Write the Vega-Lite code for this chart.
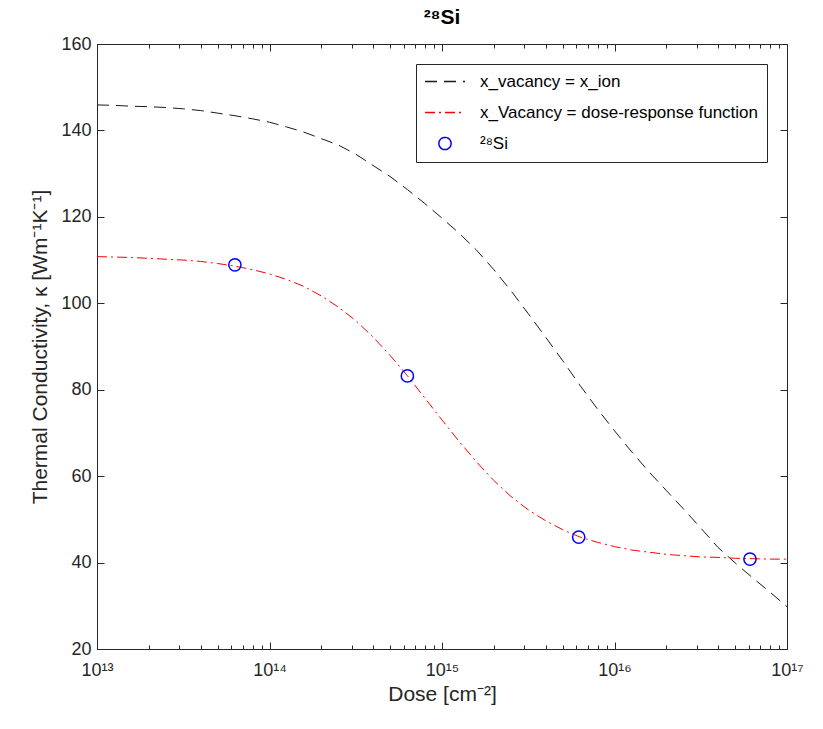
{
  "$schema": "https://vega.github.io/schema/vega-lite/v6.json",
  "width": 690,
  "height": 605,
  "autosize": {"type": "none"},
  "padding": {"left": 97, "top": 44, "right": 36, "bottom": 80},
  "background": "white",
  "title": {"text": "²⁸Si", "fontSize": 21, "fontWeight": "bold", "font": "Liberation Sans", "color": "#000000", "offset": 7},
  "config": {
    "font": "Liberation Sans",
    "view": {"stroke": "#262626", "strokeWidth": 1},
    "axis": {"grid": false, "domainColor": "#262626", "tickColor": "#262626", "labelColor": "#262626", "titleColor": "#262626", "labelFont": "Liberation Sans", "titleFont": "Liberation Sans", "labelFontSize": 18, "titleFontSize": 21, "titleFontWeight": "normal", "labelFlush": false, "labelOverlap": false, "tickWidth": 1},
    "legend": {"labelFont": "Liberation Sans"}
  },
  "datasets": {
    "curves": [
      {"dose": 1e13, "kappa": 145.9, "series": "x_vacancy = x_ion"},
      {"dose": 1.2589e13, "kappa": 145.8, "series": "x_vacancy = x_ion"},
      {"dose": 1.5849e13, "kappa": 145.6, "series": "x_vacancy = x_ion"},
      {"dose": 1.9953e13, "kappa": 145.5, "series": "x_vacancy = x_ion"},
      {"dose": 2.5119e13, "kappa": 145.3, "series": "x_vacancy = x_ion"},
      {"dose": 3.1623e13, "kappa": 145.0, "series": "x_vacancy = x_ion"},
      {"dose": 3.9811e13, "kappa": 144.6, "series": "x_vacancy = x_ion"},
      {"dose": 5.0119e13, "kappa": 144.0, "series": "x_vacancy = x_ion"},
      {"dose": 6.3096e13, "kappa": 143.4, "series": "x_vacancy = x_ion"},
      {"dose": 7.9433e13, "kappa": 142.7, "series": "x_vacancy = x_ion"},
      {"dose": 1e14, "kappa": 141.9, "series": "x_vacancy = x_ion"},
      {"dose": 1.2589e14, "kappa": 140.8, "series": "x_vacancy = x_ion"},
      {"dose": 1.5849e14, "kappa": 139.6, "series": "x_vacancy = x_ion"},
      {"dose": 1.9953e14, "kappa": 138.1, "series": "x_vacancy = x_ion"},
      {"dose": 2.5119e14, "kappa": 136.6, "series": "x_vacancy = x_ion"},
      {"dose": 3.1623e14, "kappa": 134.5, "series": "x_vacancy = x_ion"},
      {"dose": 3.9811e14, "kappa": 131.9, "series": "x_vacancy = x_ion"},
      {"dose": 5.0119e14, "kappa": 129.3, "series": "x_vacancy = x_ion"},
      {"dose": 6.3096e14, "kappa": 126.3, "series": "x_vacancy = x_ion"},
      {"dose": 7.9433e14, "kappa": 123.1, "series": "x_vacancy = x_ion"},
      {"dose": 1e15, "kappa": 119.7, "series": "x_vacancy = x_ion"},
      {"dose": 1.2589e15, "kappa": 116.2, "series": "x_vacancy = x_ion"},
      {"dose": 1.5849e15, "kappa": 112.3, "series": "x_vacancy = x_ion"},
      {"dose": 1.9953e15, "kappa": 107.8, "series": "x_vacancy = x_ion"},
      {"dose": 2.5119e15, "kappa": 102.9, "series": "x_vacancy = x_ion"},
      {"dose": 3.1623e15, "kappa": 97.6, "series": "x_vacancy = x_ion"},
      {"dose": 3.9811e15, "kappa": 92.2, "series": "x_vacancy = x_ion"},
      {"dose": 5.0119e15, "kappa": 86.7, "series": "x_vacancy = x_ion"},
      {"dose": 6.3096e15, "kappa": 81.0, "series": "x_vacancy = x_ion"},
      {"dose": 7.9433e15, "kappa": 75.6, "series": "x_vacancy = x_ion"},
      {"dose": 1e16, "kappa": 70.5, "series": "x_vacancy = x_ion"},
      {"dose": 1.2589e16, "kappa": 65.6, "series": "x_vacancy = x_ion"},
      {"dose": 1.5849e16, "kappa": 61.0, "series": "x_vacancy = x_ion"},
      {"dose": 1.9953e16, "kappa": 56.7, "series": "x_vacancy = x_ion"},
      {"dose": 2.5119e16, "kappa": 52.4, "series": "x_vacancy = x_ion"},
      {"dose": 3.1623e16, "kappa": 48.0, "series": "x_vacancy = x_ion"},
      {"dose": 3.9811e16, "kappa": 43.5, "series": "x_vacancy = x_ion"},
      {"dose": 5.0119e16, "kappa": 39.9, "series": "x_vacancy = x_ion"},
      {"dose": 6.3096e16, "kappa": 36.5, "series": "x_vacancy = x_ion"},
      {"dose": 7.9433e16, "kappa": 33.2, "series": "x_vacancy = x_ion"},
      {"dose": 1e17, "kappa": 29.8, "series": "x_vacancy = x_ion"},
      {"dose": 1e13, "kappa": 110.8, "series": "x_Vacancy = dose-response function"},
      {"dose": 1.2589e13, "kappa": 110.7, "series": "x_Vacancy = dose-response function"},
      {"dose": 1.5849e13, "kappa": 110.6, "series": "x_Vacancy = dose-response function"},
      {"dose": 1.9953e13, "kappa": 110.4, "series": "x_Vacancy = dose-response function"},
      {"dose": 2.5119e13, "kappa": 110.2, "series": "x_Vacancy = dose-response function"},
      {"dose": 3.1623e13, "kappa": 110.0, "series": "x_Vacancy = dose-response function"},
      {"dose": 3.9811e13, "kappa": 109.7, "series": "x_Vacancy = dose-response function"},
      {"dose": 5.0119e13, "kappa": 109.2, "series": "x_Vacancy = dose-response function"},
      {"dose": 6.3096e13, "kappa": 108.6, "series": "x_Vacancy = dose-response function"},
      {"dose": 7.9433e13, "kappa": 107.8, "series": "x_Vacancy = dose-response function"},
      {"dose": 1e14, "kappa": 106.8, "series": "x_Vacancy = dose-response function"},
      {"dose": 1.2589e14, "kappa": 105.5, "series": "x_Vacancy = dose-response function"},
      {"dose": 1.5849e14, "kappa": 103.9, "series": "x_Vacancy = dose-response function"},
      {"dose": 1.9953e14, "kappa": 101.7, "series": "x_Vacancy = dose-response function"},
      {"dose": 2.5119e14, "kappa": 99.1, "series": "x_Vacancy = dose-response function"},
      {"dose": 3.1623e14, "kappa": 96.0, "series": "x_Vacancy = dose-response function"},
      {"dose": 3.9811e14, "kappa": 92.2, "series": "x_Vacancy = dose-response function"},
      {"dose": 5.0119e14, "kappa": 87.9, "series": "x_Vacancy = dose-response function"},
      {"dose": 6.3096e14, "kappa": 83.2, "series": "x_Vacancy = dose-response function"},
      {"dose": 7.9433e14, "kappa": 78.1, "series": "x_Vacancy = dose-response function"},
      {"dose": 1e15, "kappa": 73.0, "series": "x_Vacancy = dose-response function"},
      {"dose": 1.2589e15, "kappa": 68.0, "series": "x_Vacancy = dose-response function"},
      {"dose": 1.5849e15, "kappa": 63.3, "series": "x_Vacancy = dose-response function"},
      {"dose": 1.9953e15, "kappa": 59.0, "series": "x_Vacancy = dose-response function"},
      {"dose": 2.5119e15, "kappa": 55.3, "series": "x_Vacancy = dose-response function"},
      {"dose": 3.1623e15, "kappa": 52.2, "series": "x_Vacancy = dose-response function"},
      {"dose": 3.9811e15, "kappa": 49.7, "series": "x_Vacancy = dose-response function"},
      {"dose": 5.0119e15, "kappa": 47.6, "series": "x_Vacancy = dose-response function"},
      {"dose": 6.3096e15, "kappa": 45.9, "series": "x_Vacancy = dose-response function"},
      {"dose": 7.9433e15, "kappa": 44.7, "series": "x_Vacancy = dose-response function"},
      {"dose": 1e16, "kappa": 43.7, "series": "x_Vacancy = dose-response function"},
      {"dose": 1.2589e16, "kappa": 42.9, "series": "x_Vacancy = dose-response function"},
      {"dose": 1.5849e16, "kappa": 42.4, "series": "x_Vacancy = dose-response function"},
      {"dose": 1.9953e16, "kappa": 41.9, "series": "x_Vacancy = dose-response function"},
      {"dose": 2.5119e16, "kappa": 41.6, "series": "x_Vacancy = dose-response function"},
      {"dose": 3.1623e16, "kappa": 41.3, "series": "x_Vacancy = dose-response function"},
      {"dose": 3.9811e16, "kappa": 41.2, "series": "x_Vacancy = dose-response function"},
      {"dose": 5.0119e16, "kappa": 41.0, "series": "x_Vacancy = dose-response function"},
      {"dose": 6.3096e16, "kappa": 40.9, "series": "x_Vacancy = dose-response function"},
      {"dose": 7.9433e16, "kappa": 40.8, "series": "x_Vacancy = dose-response function"},
      {"dose": 1e17, "kappa": 40.8, "series": "x_Vacancy = dose-response function"}
    ],
    "points": [
      {"dose": 6.3e13, "kappa": 108.9, "series": "²⁸Si"},
      {"dose": 6.3e14, "kappa": 83.2, "series": "²⁸Si"},
      {"dose": 6.2e15, "kappa": 45.9, "series": "²⁸Si"},
      {"dose": 6.1e16, "kappa": 40.8, "series": "²⁸Si"}
    ]
  },
  "layer": [
    {
      "data": {"name": "curves"},
      "transform": [{"filter": "datum.series === 'x_vacancy = x_ion'"}],
      "mark": {"type": "line", "strokeDash": [12, 7], "strokeWidth": 1},
      "encoding": {
        "x": {"field": "dose", "type": "quantitative",
          "scale": {"type": "log", "domain": [1e13, 1e17], "nice": false},
          "axis": {"orient": "bottom", "values": [1e13, 1e14, 1e15, 1e16, 1e17], "tickSize": -7, "labelPadding": 19,
            "labelExpr": "datum.value == 1e13 ? '10¹³' : datum.value == 1e14 ? '10¹⁴' : datum.value == 1e15 ? '10¹⁵' : datum.value == 1e16 ? '10¹⁶' : '10¹⁷'",
            "title": "Dose [cm⁻²]", "titlePadding": 4}},
        "y": {"field": "kappa", "type": "quantitative",
          "scale": {"domain": [20, 160], "nice": false, "zero": false},
          "axis": {"orient": "left", "values": [20, 40, 60, 80, 100, 120, 140, 160], "tickSize": -7, "labelPadding": 13,
            "title": "Thermal Conductivity, κ [Wm⁻¹K⁻¹]", "titlePadding": 10}},
        "color": {"field": "series", "type": "nominal",
          "scale": {"domain": ["x_vacancy = x_ion", "x_Vacancy = dose-response function", "²⁸Si"], "range": ["#1a1a1a", "#ff0000", "#0000ff"]},
          "legend": {"orient": "top-right", "offset": 20, "title": null, "fillColor": "white", "strokeColor": "#262626", "padding": 9,
            "labelFontSize": 17, "labelColor": "#000000", "symbolSize": 1024, "symbolStrokeWidth": 1, "rowPadding": 13, "labelOffset": 38, "labelLimit": 400,
            "encode": {"symbols": {"update": {
              "x": {"value": 20},
              "shape": {"signal": "datum.value === '²⁸Si' ? 'circle' : 'stroke'"},
              "size": {"signal": "datum.value === '²⁸Si' ? 150 : 1600"},
              "stroke": {"signal": "datum.value === 'x_vacancy = x_ion' ? '#1a1a1a' : datum.value === '²⁸Si' ? '#0000ff' : '#ff0000'"},
              "strokeDash": {"signal": "datum.value === 'x_vacancy = x_ion' ? [12, 7] : datum.value === '²⁸Si' ? [1, 0] : [10, 4, 2, 4]"},
              "fill": {"value": "transparent"},
              "opacity": {"value": 1},
              "strokeWidth": {"signal": "datum.value === '²⁸Si' ? 1.5 : 1.3"}
            }}}}
        }
      }
    },
    {
      "data": {"name": "curves"},
      "transform": [{"filter": "datum.series !== 'x_vacancy = x_ion'"}],
      "mark": {"type": "line", "strokeDash": [10, 4, 2, 4], "strokeWidth": 1},
      "encoding": {
        "x": {"field": "dose", "type": "quantitative",
          "axis": {"orient": "bottom", "values": [2e13, 3e13, 4e13, 5e13, 6e13, 7e13, 8e13, 9e13, 2e14, 3e14, 4e14, 5e14, 6e14, 7e14, 8e14, 9e14, 2e15, 3e15, 4e15, 5e15, 6e15, 7e15, 8e15, 9e15, 2e16, 3e16, 4e16, 5e16, 6e16, 7e16, 8e16, 9e16], "tickSize": -4, "labels": false, "domain": false, "title": null}},
        "y": {"field": "kappa", "type": "quantitative",
          "axis": {"orient": "right", "values": [20, 40, 60, 80, 100, 120, 140, 160], "tickSize": -7, "labels": false, "title": null}},
        "color": {"field": "series", "type": "nominal"}
      }
    },
    {
      "data": {"name": "points"},
      "mark": {"type": "point", "filled": false, "size": 150, "strokeWidth": 1.5, "opacity": 1},
      "encoding": {
        "x": {"field": "dose", "type": "quantitative",
          "axis": {"orient": "top", "values": [1e13, 1e14, 1e15, 1e16, 1e17], "tickSize": -7, "labels": false, "title": null}},
        "y": {"field": "kappa", "type": "quantitative", "axis": null},
        "color": {"field": "series", "type": "nominal"}
      }
    },
    {
      "data": {"name": "points"},
      "mark": {"type": "point", "opacity": 0},
      "encoding": {
        "x": {"field": "dose", "type": "quantitative",
          "axis": {"orient": "top", "values": [2e13, 3e13, 4e13, 5e13, 6e13, 7e13, 8e13, 9e13, 2e14, 3e14, 4e14, 5e14, 6e14, 7e14, 8e14, 9e14, 2e15, 3e15, 4e15, 5e15, 6e15, 7e15, 8e15, 9e15, 2e16, 3e16, 4e16, 5e16, 6e16, 7e16, 8e16, 9e16], "tickSize": -4, "labels": false, "domain": false, "title": null}},
        "y": {"field": "kappa", "type": "quantitative", "axis": null}
      }
    }
  ],
  "resolve": {"axis": {"x": "independent", "y": "independent"}}
}
